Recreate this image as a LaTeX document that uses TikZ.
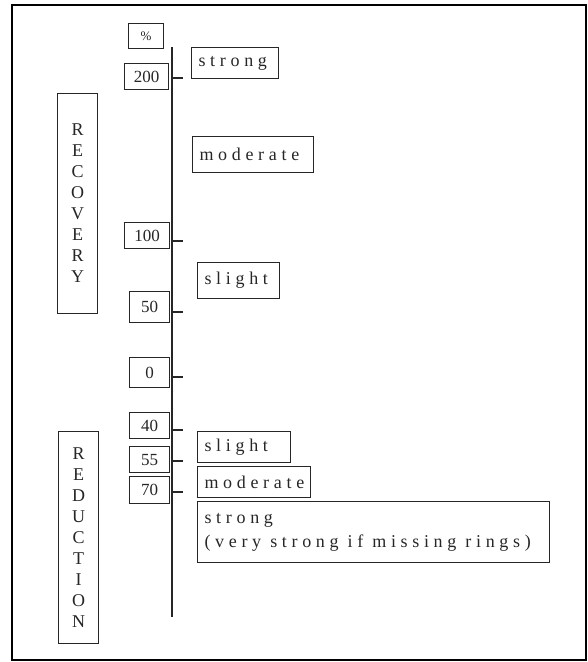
\documentclass[tikz,border=0pt]{standalone}
\usepackage{fontspec}
\setmainfont{Liberation Serif}
\newfontfamily\widefont[LetterSpace=26]{Liberation Serif}
\newcommand{\gap}{\hspace{9pt}}

\begin{document}
\begin{tikzpicture}[x=1pt,y=-1pt,
  box/.style={draw=black!85,line width=1.1pt,inner sep=0pt,text=black!85},
  num/.style={box,anchor=north west,font=\fontsize{17}{17}\selectfont},
  lvl/.style={box,anchor=north west,align=left,inner xsep=7pt,font=\widefont\fontsize{18}{24}\selectfont},
  side/.style={box,anchor=north west,align=center,minimum width=40,font=\fontsize{18}{21}\selectfont}]
\useasboundingbox (0,0) rectangle (587,662);
\draw[line width=2.5pt] (12,5) rectangle (586,660);
\coordinate (top) at (172,47);
\coordinate (bot) at (172,617);
\draw[line width=1.1pt,black!85] (top) -- (bot);
\node[num,minimum width=35,minimum height=25,font=\fontsize{13}{13}\selectfont] (pct) at (128,23) {\%};
\foreach \v/\x/\y/\w/\h in {200/124/63/44/26,100/124/222/45/26,50/129/291/40/31,0/129/357/40/30,40/129/412/40/26,55/129/446/40/26,70/129/476/40/27}
  \node[num,minimum width=\w,minimum height=\h] (n\v) at (\x,\y) {\v};
\foreach \v/\y in {200/78,100/241,50/312,0/377,40/430,55/461,70/492}
{
  \coordinate (t\v) at (172,\y);
  \draw[line width=1.1pt,black!85] (t\v) -- ++(11,0);
}
\node[side,minimum height=220] (rec) at (57,93) {R\\E\\C\\O\\V\\E\\R\\Y};
\node[side,minimum height=212] (red) at (58,431) {R\\E\\D\\U\\C\\T\\I\\O\\N};
\node[lvl,text width=73,minimum height=31] (rstrong) at (191,47) {strong};
\node[lvl,text width=107,minimum height=36] (rmod) at (192,136) {moderate};
\node[lvl,text width=68,minimum height=36] (rslight) at (197,262) {slight};
\node[lvl,text width=79,minimum height=31] (dslight) at (197,431) {slight};
\node[lvl,text width=99,minimum height=31] (dmod) at (197,466) {moderate};
\node[lvl,text width=338,minimum height=61] (dstrong) at (197,501) {strong\\(very\gap strong\gap if\gap missing\gap rings)};
\end{tikzpicture}
\end{document}
